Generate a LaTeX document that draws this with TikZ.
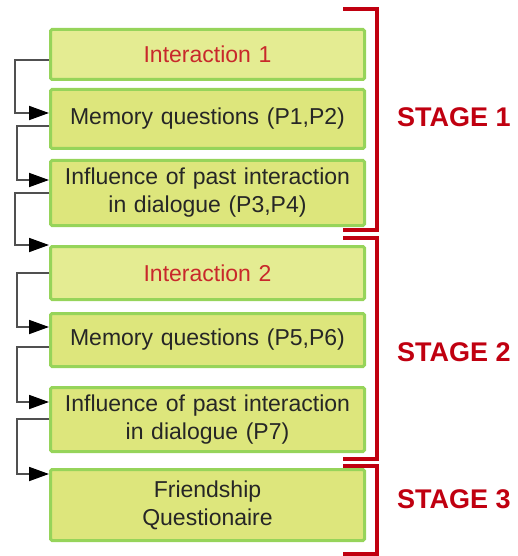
\documentclass[tikz,border=0pt]{standalone}
\usepackage{fontspec}
\setmainfont{Liberation Sans}
\usetikzlibrary{arrows.meta,calc}
\definecolor{boxfillA}{HTML}{E4EC92}
\definecolor{boxfillB}{HTML}{DDE67C}
\definecolor{boxline}{HTML}{96D45A}
\definecolor{redtxt}{HTML}{C8282B}
\definecolor{stagered}{HTML}{C00010}
\definecolor{conncol}{HTML}{505050}
\definecolor{txtcol}{HTML}{262626}
\tikzset{
  box/.style={draw=boxline, line width=3pt, fill=boxfillB, rounded corners=1.5pt,
    minimum width=314pt, text width=310pt, align=center, inner sep=0pt,
    font=\fontsize{23}{28}\selectfont, text=txtcol},
  ibox/.style={box, fill=boxfillA, text=redtxt},
  conn/.style={draw=conncol, line width=1.8pt,
    -{Triangle[length=20pt,width=14pt,fill=black,color=black]}},
  brk/.style={draw=stagered, line width=3.5pt},
  stagelbl/.style={anchor=base west, text=stagered, inner sep=0pt,
    font=\fontsize{27}{30}\selectfont\bfseries}
}
\begin{document}
\begin{tikzpicture}[x=1pt,y=-1pt]
\useasboundingbox (0,0) rectangle (517,556);
% boxes
\node[ibox, minimum height=50pt] (b1) at (207.5,54.5) {Interaction 1};
\node[box, minimum height=59pt] (b2) at (207.5,119) {Memory questions (P1,P2)};
\node[box, minimum height=65pt] (b3) at (207.5,193) {Influence of past interaction\\in dialogue (P3,P4)};
\node[ibox, minimum height=53pt] (b4) at (207.5,273) {Interaction 2};
\node[box, minimum height=53pt] (b5) at (207.5,340) {Memory questions (P5,P6)};
\node[box, minimum height=64pt] (b6) at (207.5,419.5) {Influence of past interaction\\in dialogue (P7)};
\node[box, minimum height=71pt] (b7) at (207.5,505) {Friendship\\Questionaire};
% connectors
\draw[conn] (b1.west |- 0,60) -- (15,60) |- (b2.west |- 0,113);
\draw[conn] (b2.west |- 0,126) -- (17,126) |- (b3.west |- 0,180);
\draw[conn] (b3.west |- 0,193) -- (15,193) |- (b4.west |- 0,245);
\draw[conn] (b4.west |- 0,273) -- (17,273) |- (b5.west |- 0,327);
\draw[conn] (b5.west |- 0,347) -- (17,347) |- (b6.west |- 0,402);
\draw[conn] (b6.west |- 0,419) -- (17,419) |- (b7.west |- 0,474);
% brackets
\draw[brk] (343,9) -- (377,9) -- (377,230) -- (343,230);
\draw[brk] (343,238) -- (377,238) -- (377,459) -- (343,459);
\draw[brk] (343,466) -- (377,466) -- (377,554) -- (343,554);
% stage labels
\node[stagelbl] (s1) at (397,127) {STAGE 1};
\node[stagelbl] (s2) at (397,361) {STAGE 2};
\node[stagelbl] (s3) at (397,508) {STAGE 3};
\end{tikzpicture}
\end{document}
